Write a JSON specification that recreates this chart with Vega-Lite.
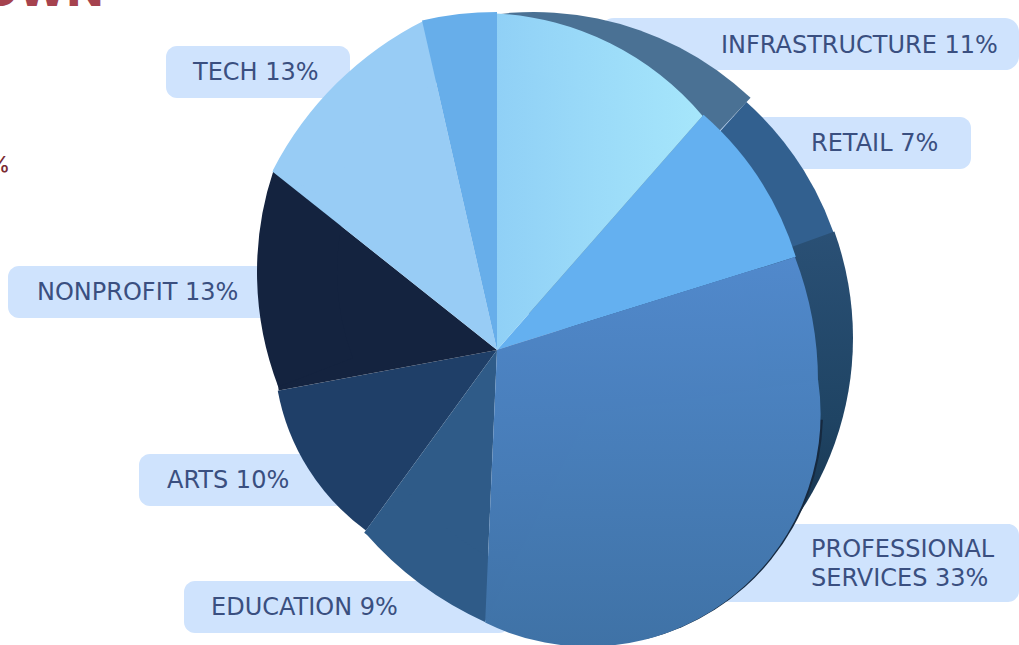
{"$schema":"https://vega.github.io/schema/vega-lite/v6.json","width":1019,"height":645,"padding":0,"autosize":{"type":"none"},"background":"white","config":{"view":{"stroke":null}},
"data":{"values":[
{"sector":"Infrastructure","share":11,"drawn":11.47,"label":"INFRASTRUCTURE 11%","ord":1},
{"sector":"Retail","share":7,"drawn":8.72,"label":"RETAIL 7%","ord":2},
{"sector":"Professional Services","share":33,"drawn":30.5,"label":"PROFESSIONAL\nSERVICES 33%","ord":3},
{"sector":"Education","share":9,"drawn":9.31,"label":"EDUCATION 9%","ord":4},
{"sector":"Arts","share":10,"drawn":12.08,"label":"ARTS 10%","ord":5},
{"sector":"Nonprofit","share":13,"drawn":13.61,"label":"NONPROFIT 13%","ord":6},
{"sector":"Tech","share":13,"drawn":10.75,"label":"TECH 13%","ord":7},
{"sector":"Unlabeled","share":4,"drawn":3.56,"label":"","ord":8}
]},
"transform":[{"stack":"drawn","groupby":[],"sort":[{"field":"ord","order":"ascending"}],"as":["t0","t1"]}],
"layer":[
{"transform":[{"filter":"datum.sector=='Tech'"}],"mark":{"type":"rect","fill":"#cfe3fd","cornerRadius":11},"encoding":{"x":{"datum":166,"type":"quantitative","axis":null,"scale":{"domain":[0,1019],"range":[0,1019],"nice":false,"zero":false}},"x2":{"datum":350},"y":{"datum":46,"type":"quantitative","axis":null,"scale":{"domain":[0,645],"reverse":true,"nice":false,"zero":false}},"y2":{"datum":98}}},
{"transform":[{"filter":"datum.sector=='Infrastructure'"}],"mark":{"type":"rect","fill":"#cfe3fd","cornerRadius":14},"encoding":{"x":{"datum":600,"type":"quantitative"},"x2":{"datum":1019},"y":{"datum":18,"type":"quantitative"},"y2":{"datum":70}}},
{"transform":[{"filter":"datum.sector=='Retail'"}],"mark":{"type":"rect","fill":"#cfe3fd","cornerRadius":11},"encoding":{"x":{"datum":700,"type":"quantitative"},"x2":{"datum":971},"y":{"datum":117,"type":"quantitative"},"y2":{"datum":169}}},
{"transform":[{"filter":"datum.sector=='Nonprofit'"}],"mark":{"type":"rect","fill":"#cfe3fd","cornerRadius":11},"encoding":{"x":{"datum":8,"type":"quantitative"},"x2":{"datum":290},"y":{"datum":266,"type":"quantitative"},"y2":{"datum":318}}},
{"transform":[{"filter":"datum.sector=='Arts'"}],"mark":{"type":"rect","fill":"#cfe3fd","cornerRadius":11},"encoding":{"x":{"datum":139,"type":"quantitative"},"x2":{"datum":360},"y":{"datum":454,"type":"quantitative"},"y2":{"datum":506}}},
{"transform":[{"filter":"datum.sector=='Education'"}],"mark":{"type":"rect","fill":"#cfe3fd","cornerRadius":11},"encoding":{"x":{"datum":184,"type":"quantitative"},"x2":{"datum":510},"y":{"datum":581,"type":"quantitative"},"y2":{"datum":633}}},
{"transform":[{"filter":"datum.sector=='Professional Services'"}],"mark":{"type":"rect","fill":"#cfe3fd","cornerRadius":11},"encoding":{"x":{"datum":680,"type":"quantitative"},"x2":{"datum":1019},"y":{"datum":524,"type":"quantitative"},"y2":{"datum":602}}},

{"transform":[{"filter":"datum.sector=='Infrastructure'"}],"mark":{"type":"arc","radius":316,"theta":-0.35,"theta2":0.755,"fill":"#4a7194"},"encoding":{"x":{"datum":534,"type":"quantitative"},"y":{"datum":328,"type":"quantitative"}}},
{"transform":[{"filter":"datum.sector=='Retail'"}],"mark":{"type":"arc","radius":314,"theta":0.73,"theta2":1.3,"fill":"#32608f"},"encoding":{"x":{"datum":537,"type":"quantitative"},"y":{"datum":336,"type":"quantitative"}}},
{"transform":[{"filter":"datum.sector=='Professional Services'"}],"layer":[
{"mark":{"type":"arc","radius":314,"theta":1.225,"theta2":2.6,"fill":{"x1":0,"y1":0,"x2":0,"y2":1,"gradient":"linear","stops":[{"offset":0,"color":"#2a5075"},{"offset":0.5,"color":"#1f4464"},{"offset":1,"color":"#12293f"}]}},"encoding":{"x":{"datum":539,"type":"quantitative"},"y":{"datum":338,"type":"quantitative"}}},
{"mark":{"type":"arc","radius":233,"theta":1.6,"theta2":2.9,"fill":"#16293f"},"encoding":{"x":{"datum":590,"type":"quantitative"},"y":{"datum":413,"type":"quantitative"}}}
]},

{"transform":[{"filter":"datum.sector=='Retail'"}],"mark":{"type":"arc","radius":313,"fill":"#64b0f0"},"encoding":{"x":{"datum":497,"type":"quantitative"},"y":{"datum":350,"type":"quantitative"},"theta":{"field":"t0","type":"quantitative","scale":{"domain":[0,100]}},"theta2":{"field":"t1"}}},
{"transform":[{"filter":"datum.sector=='Infrastructure'"}],"layer":[
{"mark":{"type":"arc","radius":311,"fill":{"x1":0,"y1":0,"x2":1,"y2":0,"gradient":"linear","stops":[{"offset":0,"color":"#90d0f6"},{"offset":1,"color":"#a6e6fb"}]}},"encoding":{"x":{"datum":497,"type":"quantitative"},"y":{"datum":350,"type":"quantitative"},"theta":{"field":"t0","type":"quantitative"},"theta2":{"field":"t1"}}},
{"mark":{"type":"arc","radius":290,"radius2":235,"theta":0.054,"theta2":0.869,"fill":{"x1":0,"y1":0,"x2":1,"y2":0,"gradient":"linear","stops":[{"offset":0,"color":"#90d0f6"},{"offset":1,"color":"#a6e6fb"}]}},"encoding":{"x":{"datum":481,"type":"quantitative"},"y":{"datum":303,"type":"quantitative"}}}
]},
{"transform":[{"filter":"datum.sector=='Arts'"}],"mark":{"type":"arc","radius":223,"fill":"#1f3f68"},"encoding":{"x":{"datum":497,"type":"quantitative"},"y":{"datum":350,"type":"quantitative"},"theta":{"field":"t0","type":"quantitative"},"theta2":{"field":"t1"}}},
{"transform":[{"filter":"datum.sector=='Nonprofit'"}],"layer":[
{"mark":{"type":"arc","radius":222,"fill":"#14233f"},"encoding":{"x":{"datum":497,"type":"quantitative"},"y":{"datum":350,"type":"quantitative"},"theta":{"field":"t0","type":"quantitative"},"theta2":{"field":"t1"}}},
{"mark":{"type":"arc","radius":320,"radius2":240,"theta":4.346,"theta2":5.035,"fill":"#14233f"},"encoding":{"x":{"datum":577,"type":"quantitative"},"y":{"datum":272,"type":"quantitative"}}}
]},
{"transform":[{"filter":"datum.sector=='Tech'"}],"layer":[
{"mark":{"type":"arc","radius":287,"fill":"#98ccf5"},"encoding":{"x":{"datum":497,"type":"quantitative"},"y":{"datum":350,"type":"quantitative"},"theta":{"field":"t0","type":"quantitative"},"theta2":{"field":"t1"}}},
{"mark":{"type":"arc","radius":343,"radius2":283,"theta":5.187,"theta2":5.82,"fill":"#98ccf5"},"encoding":{"x":{"datum":578,"type":"quantitative"},"y":{"datum":327,"type":"quantitative"}}}
]},
{"transform":[{"filter":"datum.sector=='Unlabeled'"}],"mark":{"type":"arc","radius":338,"fill":"#67aeea"},"encoding":{"x":{"datum":497,"type":"quantitative"},"y":{"datum":350,"type":"quantitative"},"theta":{"field":"t0","type":"quantitative"},"theta2":{"field":"t1"}}},
{"transform":[{"filter":"datum.sector=='Education'"}],"layer":[
{"mark":{"type":"arc","radius":226,"fill":"#2f5b88"},"encoding":{"x":{"datum":497,"type":"quantitative"},"y":{"datum":350,"type":"quantitative"},"theta":{"field":"t0","type":"quantitative"},"theta2":{"field":"t1"}}},
{"mark":{"type":"arc","radius":350,"radius2":290,"theta":3.566,"theta2":3.995,"fill":"#2f5b88"},"encoding":{"x":{"datum":629,"type":"quantitative"},"y":{"datum":303,"type":"quantitative"}}}
]},
{"transform":[{"filter":"datum.sector=='Professional Services'"}],"layer":[
{"mark":{"type":"arc","radius":272,"fill":{"x1":0,"y1":0,"x2":0,"y2":1,"gradient":"linear","stops":[{"offset":0,"color":"#5088cb"},{"offset":1,"color":"#4073a8"}]}},"encoding":{"x":{"datum":497,"type":"quantitative"},"y":{"datum":350,"type":"quantitative"},"theta":{"field":"t0","type":"quantitative"},"theta2":{"field":"t1"}}},
{"mark":{"type":"arc","radius":305,"theta":1.2689,"theta2":1.75,"fill":{"x1":0,"y1":0,"x2":0,"y2":1,"gradient":"linear","stops":[{"offset":0,"color":"#5189cc"},{"offset":1,"color":"#4a80bd"}]}},"encoding":{"x":{"datum":497,"type":"quantitative"},"y":{"datum":350,"type":"quantitative"}}},
{"mark":{"type":"arc","radius":350,"radius2":290,"theta":1.205,"theta2":1.6,"fill":{"x1":0,"y1":0,"x2":0,"y2":1,"gradient":"linear","stops":[{"offset":0,"color":"#5189cc"},{"offset":1,"color":"#4a81be"}]}},"encoding":{"x":{"datum":468,"type":"quantitative"},"y":{"datum":382,"type":"quantitative"}}},
{"mark":{"type":"arc","radius":232.6,"theta":1.424,"theta2":3.6,"fill":{"x1":0,"y1":0,"x2":0,"y2":1,"gradient":"linear","stops":[{"offset":0,"color":"#4b82c0"},{"offset":1,"color":"#3f72a6"}]}},"encoding":{"x":{"datum":588,"type":"quantitative"},"y":{"datum":414,"type":"quantitative"}}}
]},

{"transform":[{"filter":"datum.sector=='Infrastructure'"}],"mark":{"type":"text","font":"DejaVu Sans","fontSize":24,"color":"#3a4f80","align":"left","baseline":"alphabetic"},"encoding":{"text":{"field":"label"},"x":{"datum":721,"type":"quantitative"},"y":{"datum":53,"type":"quantitative"}}},
{"transform":[{"filter":"datum.sector=='Retail'"}],"mark":{"type":"text","font":"DejaVu Sans","fontSize":24,"color":"#3a4f80","align":"left","baseline":"alphabetic"},"encoding":{"text":{"field":"label"},"x":{"datum":811,"type":"quantitative"},"y":{"datum":151,"type":"quantitative"}}},
{"transform":[{"filter":"datum.sector=='Professional Services'"}],"mark":{"type":"text","font":"DejaVu Sans","fontSize":24,"color":"#3a4f80","align":"left","baseline":"alphabetic","lineBreak":"\n","lineHeight":29},"encoding":{"text":{"field":"label"},"x":{"datum":811,"type":"quantitative"},"y":{"datum":557,"type":"quantitative"}}},
{"transform":[{"filter":"datum.sector=='Education'"}],"mark":{"type":"text","font":"DejaVu Sans","fontSize":24,"color":"#3a4f80","align":"left","baseline":"alphabetic"},"encoding":{"text":{"field":"label"},"x":{"datum":211,"type":"quantitative"},"y":{"datum":615,"type":"quantitative"}}},
{"transform":[{"filter":"datum.sector=='Arts'"}],"mark":{"type":"text","font":"DejaVu Sans","fontSize":24,"color":"#3a4f80","align":"left","baseline":"alphabetic"},"encoding":{"text":{"field":"label"},"x":{"datum":167,"type":"quantitative"},"y":{"datum":488,"type":"quantitative"}}},
{"transform":[{"filter":"datum.sector=='Nonprofit'"}],"mark":{"type":"text","font":"DejaVu Sans","fontSize":24,"color":"#3a4f80","align":"left","baseline":"alphabetic"},"encoding":{"text":{"field":"label"},"x":{"datum":37,"type":"quantitative"},"y":{"datum":300,"type":"quantitative"}}},
{"transform":[{"filter":"datum.sector=='Tech'"}],"mark":{"type":"text","font":"DejaVu Sans","fontSize":24,"color":"#3a4f80","align":"left","baseline":"alphabetic"},"encoding":{"text":{"field":"label"},"x":{"datum":193,"type":"quantitative"},"y":{"datum":80,"type":"quantitative"}}},

{"transform":[{"filter":"datum.sector=='Tech'"}],"mark":{"type":"text","font":"Inter","fontWeight":800,"fontSize":47,"color":"#a5424e","align":"right","baseline":"alphabetic"},"encoding":{"text":{"value":"OWN"},"x":{"datum":103,"type":"quantitative"},"y":{"datum":6,"type":"quantitative"}}},
{"transform":[{"filter":"datum.sector=='Tech'"}],"mark":{"type":"text","font":"Inter","fontWeight":500,"fontSize":22,"color":"#7a2a32","align":"right","baseline":"alphabetic"},"encoding":{"text":{"value":"%"},"x":{"datum":10,"type":"quantitative"},"y":{"datum":172,"type":"quantitative"}}}
]}
